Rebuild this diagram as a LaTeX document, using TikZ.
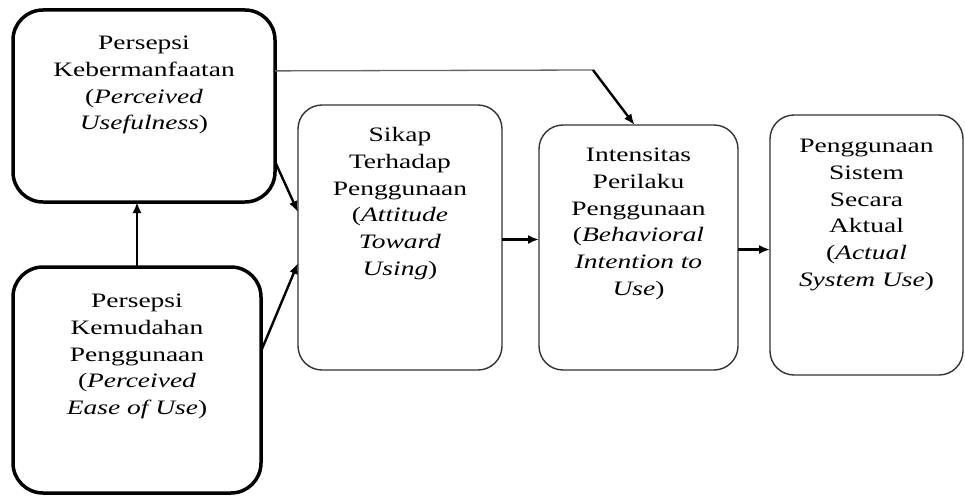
\documentclass[tikz,border=0pt]{standalone}
\usepackage{fontspec}
\setmainfont{Liberation Serif}
\usetikzlibrary{arrows.meta}
\usetikzlibrary{positioning}
\newcommand{\boxtext}[1]{\scalebox{1.34}[1]{\begin{tabular}{@{}c@{}}#1\end{tabular}}}

\begin{document}
\begin{tikzpicture}[ x=1pt, y=-1pt,
      bigbox/.style={ draw, rounded corners=30pt, line width=3.5pt, inner sep=0pt, outer sep=0pt},
      smallbox/.style={ draw=black!80, rounded corners=24pt, line width=1.4pt, inner sep=0pt, outer sep=0pt},
      boxlabel/.style={ inner sep=0pt, font=\fontsize{20.5}{26.7}\selectfont},
      link/.style={ line width=2.4pt, -{Latex[length=11pt,width=9pt]}},
      thin line/.style={ line width=1.3pt, black!60}
      ]
      \useasboundingbox (0,0) rectangle (965,495);

      % left column
      \node[bigbox, minimum width=262pt, minimum height=192pt] (PU) at (144,106) {};
      \node[boxlabel, below=21pt of PU.north] (PUtext)
        {\boxtext{Persepsi\\Kebermanfaatan\\(\textit{Perceived}\\\textit{Usefulness})}};

      \node[bigbox, minimum width=248pt, minimum height=226pt] (PEOU) at (137,380) {};
      \node[boxlabel, below=22pt of PEOU.north] (PEOUtext)
        {\boxtext{Persepsi\\Kemudahan\\Penggunaan\\(\textit{Perceived}\\\textit{Ease of Use})}};

      % right part
      \node[smallbox, minimum width=204pt, minimum height=265pt] (ATU) at (400,237.5) {};
      \node[boxlabel, below=18pt of ATU.north] (ATUtext)
        {\boxtext{Sikap\\Terhadap\\Penggunaan\\(\textit{Attitude}\\\textit{Toward}\\\textit{Using})}};

      \node[smallbox, minimum width=199pt, minimum height=245pt] (BI) at (638.5,247.5) {};
      \node[boxlabel, below=18pt of BI.north] (BItext)
        {\boxtext{Intensitas\\Perilaku\\Penggunaan\\(\textit{Behavioral}\\\textit{Intention to}\\\textit{Use})}};

      \node[smallbox, minimum width=193pt, minimum height=260pt] (AU) at (866.5,245) {};
      \node[boxlabel, below=19pt of AU.north] (AUtext)
        {\boxtext{Penggunaan\\Sistem\\Secara\\Aktual\\(\textit{Actual}\\\textit{System Use})}};

      % arrows
      \draw[link] (PEOU.north) -- (PEOU.north |- PU.south);
      \draw[link] (PU.-23) -- (ATU.166);
      \draw[link] (PEOU.13) -- (ATU.194);
      \coordinate (bend) at (593,70);
      \draw[thin line] (PU.15) -- (bend);
      \draw[link] (bend) -- ([xshift=-4pt]BI.north);
      \draw[link] ([yshift=-2pt]ATU.east) -- ([yshift=-2pt]ATU.east -| BI.west);
      \draw[link] ([yshift=-2pt]BI.east) -- ([yshift=-2pt]BI.east -| AU.west);
\end{tikzpicture}
\end{document}
